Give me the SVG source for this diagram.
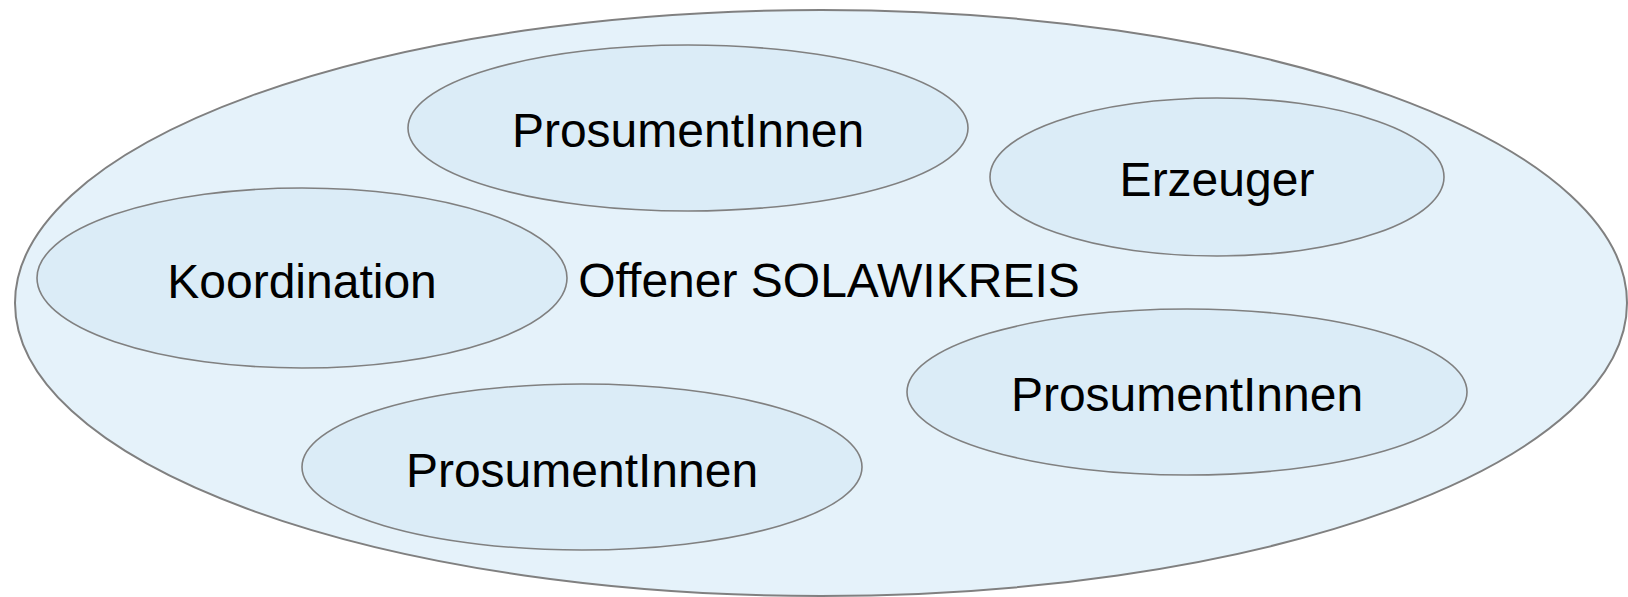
<svg xmlns="http://www.w3.org/2000/svg" width="1628" height="597" viewBox="0 0 1628 597">
<style>
.outer{fill:#e5f2fa;stroke:#808080;stroke-width:2}
.node{fill:#dbecf7;stroke:#808080;stroke-width:1.6}
.lbl{font-family:"Liberation Sans",Arial,sans-serif;font-size:48px;fill:#000;text-anchor:middle}
</style>
<rect width="1628" height="597" fill="#ffffff"/>
<g id="solawikreis">
<ellipse class="outer" cx="821" cy="303" rx="806" ry="293"/>
<text class="lbl" x="829" y="297">Offener SOLAWIKREIS</text>
</g>
<g id="connectors"></g>
<g id="prosument-top">
<ellipse class="node" cx="688" cy="128" rx="280" ry="83"/>
<text class="lbl" x="688" y="147">ProsumentInnen</text>
</g>
<g id="erzeuger">
<ellipse class="node" cx="1217" cy="177" rx="227" ry="79"/>
<text class="lbl" x="1217" y="196">Erzeuger</text>
</g>
<g id="koordination">
<ellipse class="node" cx="302" cy="278" rx="265" ry="90"/>
<text class="lbl" x="302" y="298">Koordination</text>
</g>
<g id="prosument-right">
<ellipse class="node" cx="1187" cy="392" rx="280" ry="83"/>
<text class="lbl" x="1187" y="411">ProsumentInnen</text>
</g>
<g id="prosument-bottom">
<ellipse class="node" cx="582" cy="467" rx="280" ry="83"/>
<text class="lbl" x="582" y="487">ProsumentInnen</text>
</g>
</svg>
